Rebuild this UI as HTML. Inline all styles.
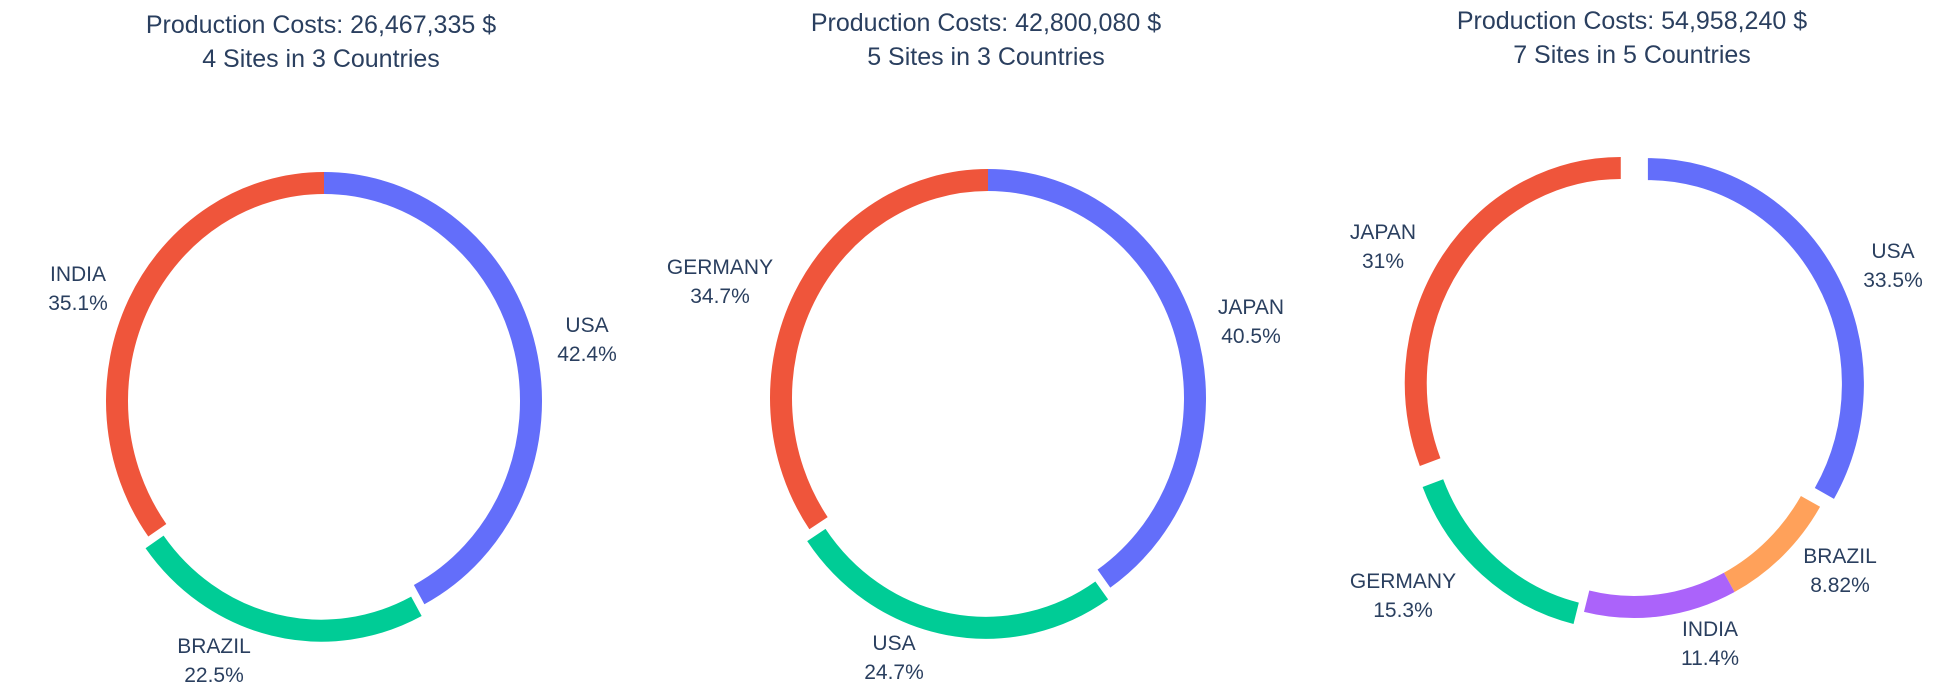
<!DOCTYPE html>
<html><head><meta charset="utf-8"><style>
html,body{margin:0;padding:0;background:#fff;}
svg{display:block;font-family:"Liberation Sans",sans-serif;}
</style></head><body>
<svg id="chart" width="1946" height="685" viewBox="0 0 1946 685"></svg>
<script>
const chart1Labels = ["USA","BRAZIL","INDIA"];
const chart1Values = [42.4,22.5,35.1];
const chart1Pull = [0,1,0];
const chart2Labels = ["JAPAN","USA","GERMANY"];
const chart2Values = [40.5,24.7,34.7];
const chart2Pull = [0,1,0];
const chart3Labels = ["USA","BRAZIL","INDIA","GERMANY","JAPAN"];
const chart3Values = [33.5,8.82,11.4,15.3,31];
const chart3Pull = [1,0,0,1,1];
const chartTitles = ["Production Costs: 26,467,335 $","Production Costs: 42,800,080 $","Production Costs: 54,958,240 $"];
const chartSubtitles = ["4 Sites in 3 Countries","5 Sites in 3 Countries","7 Sites in 5 Countries"];
const pctText = [["42.4%","22.5%","35.1%"],["40.5%","24.7%","34.7%"],["33.5%","8.82%","11.4%","15.3%","31%"]];

const colorMap = {USA:"#636efa",INDIA:"#EF553B",BRAZIL:"#00cc96",JAPAN:"#636efa",GERMANY:"#EF553B"};
const color3 = {USA:"#636efa",JAPAN:"#EF553B",GERMANY:"#00cc96",INDIA:"#ab63fa",BRAZIL:"#FFA15A"};

const layout = [
 {cx:324,cy:401,rx:207,ry:218,pull:12,tx:321,ty1:33,ty2:67,colors:colorMap,
  lab:[[587,332],[214,653],[78,281]]},
 {cx:988,cy:398,rx:207,ry:218,pull:12,tx:986,ty1:31,ty2:65,
  colors:{JAPAN:"#636efa",GERMANY:"#EF553B",USA:"#00cc96"},
  lab:[[1251,314],[894,650],[720,274]]},
 {cx:1634,cy:392,rx:205,ry:215,pull:16,tx:1632,ty1:29,ty2:63,colors:color3,
  lab:[[1893,258],[1840,563],[1710,636],[1403,588],[1383,239]]}
];
const datasets=[[chart1Labels,chart1Values,chart1Pull],[chart2Labels,chart2Values,chart2Pull],[chart3Labels,chart3Values,chart3Pull]];
const svg=document.getElementById('chart');
const NS="http://www.w3.org/2000/svg";
function mk(t,a){const e=document.createElementNS(NS,t);for(const k in a)e.setAttribute(k,a[k]);svg.appendChild(e);return e;}
function angle(frac){return frac*2*Math.PI;}
datasets.forEach((ds,ci)=>{
  const L=layout[ci];const [labels,vals,pulls]=ds;
  const total=vals.reduce((a,b)=>a+b,0);
  let acc=0;
  // titles
  const t1=mk('text',{x:L.tx,y:L.ty1,'text-anchor':'middle','font-size':25,fill:'#2a3f5f'});
  t1.textContent=chartTitles[ci];
  
  
  const t2=mk('text',{x:L.tx,y:L.ty2,'text-anchor':'middle','font-size':25,fill:'#2a3f5f'});
  t2.textContent=chartSubtitles[ci];
  
  
  vals.forEach((v,i)=>{
    const a0=angle(acc/total),a1=angle((acc+v)/total);acc+=v;
    const mid=(a0+a1)/2;
    const dx=pulls[i]*L.pull*Math.sin(mid),dy=-pulls[i]*L.pull*Math.cos(mid);
    const px=a=>L.cx+dx+L.rx*Math.sin(a),py=a=>L.cy+dy-L.ry*Math.cos(a);
    const large=(a1-a0)>Math.PI?1:0;
    const p=mk('path',{d:`M${px(a0)},${py(a0)} A${L.rx},${L.ry} 0 ${large} 1 ${px(a1)},${py(a1)}`,
      fill:'none',stroke:L.colors[labels[i]],'stroke-width':22});
    
    
    const [lx,ly]=L.lab[i];
    const n=mk('text',{x:lx,y:ly,'text-anchor':'middle','font-size':21,fill:'#2a3f5f'});
    n.textContent=labels[i];
    
    
    const q=mk('text',{x:lx,y:ly+29,'text-anchor':'middle','font-size':21,fill:'#2a3f5f'});
    q.textContent=pctText[ci][i];
    
    
  });
});
</script>
</body></html>
